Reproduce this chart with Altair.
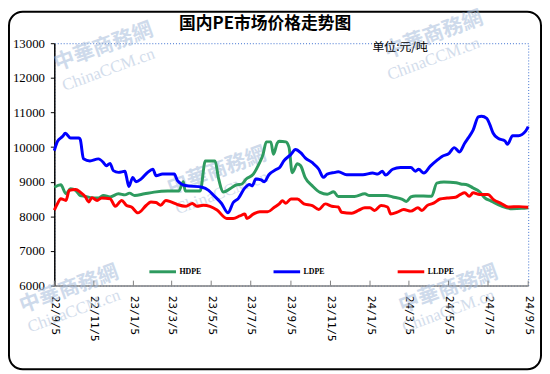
import altair as alt
import pandas as pd

# ---------------- data ----------------
series_names = ["HDPE", "LDPE", "LLDPE"]
series_colors = ["#2E9B5F", "#0000FF", "#FF0000"]

hdpe_dates = ["2022-09-05", "2022-09-15", "2022-09-23", "2022-09-30", "2022-10-08", "2022-10-15",
              "2022-10-23", "2022-10-31", "2022-11-12", "2022-11-20", "2022-11-30", "2022-12-13",
              "2022-12-23", "2022-12-30", "2023-01-07", "2023-01-22", "2023-02-06", "2023-02-27",
              "2023-03-16", "2023-03-23", "2023-03-26", "2023-04-18", "2023-04-26", "2023-05-11",
              "2023-05-16", "2023-05-24", "2023-06-03", "2023-06-13", "2023-06-21", "2023-06-28",
              "2023-07-09", "2023-07-17", "2023-07-24", "2023-07-29", "2023-08-05", "2023-08-09",
              "2023-08-15", "2023-08-18", "2023-08-28", "2023-09-02", "2023-09-07", "2023-09-15",
              "2023-09-20", "2023-09-27", "2023-10-08", "2023-10-20", "2023-10-31", "2023-11-10",
              "2023-11-17", "2023-12-12", "2023-12-28", "2024-01-04", "2024-01-30", "2024-02-09",
              "2024-02-24", "2024-03-01", "2024-03-08", "2024-03-15", "2024-04-09", "2024-04-17",
              "2024-04-28", "2024-05-17", "2024-05-24", "2024-06-01", "2024-06-12", "2024-06-22",
              "2024-06-30", "2024-07-10", "2024-07-26", "2024-08-11", "2024-08-26", "2024-09-05"]
hdpe_values = [8840, 8910, 8650, 8795, 8750, 8600,
               8575, 8540, 8530, 8600, 8560, 8650,
               8620, 8670, 8600, 8650, 8700, 8730,
               8730, 9000, 8730, 8730, 9600, 9600,
               9125, 8700, 8795, 8910, 8930, 9080,
               9220, 9485, 9790, 10150, 10150, 9790,
               10120, 10170, 10150, 10000, 9260, 9520,
               9460, 9120, 8880, 8690, 8640, 8710,
               8570, 8570, 8650, 8600, 8600, 8560,
               8490, 8430, 8560, 8590, 8580, 8960,
               8990, 8970, 8935, 8920, 8820, 8710,
               8535, 8440, 8295, 8220, 8230, 8250]

ldpe_dates = ["2022-09-05", "2022-09-10", "2022-09-18", "2022-09-22", "2022-09-30", "2022-10-13",
              "2022-10-15", "2022-10-20", "2022-10-30", "2022-11-12", "2022-11-20", "2022-11-24",
              "2022-11-30", "2022-12-05", "2022-12-13", "2022-12-23", "2022-12-25", "2022-12-29",
              "2023-01-04", "2023-01-09", "2023-01-17", "2023-01-27", "2023-02-04", "2023-02-09",
              "2023-02-19", "2023-03-09", "2023-03-14", "2023-03-26", "2023-04-21", "2023-05-01",
              "2023-05-09", "2023-05-21", "2023-05-31", "2023-06-08", "2023-06-16", "2023-06-25",
              "2023-07-03", "2023-07-07", "2023-07-13", "2023-07-21", "2023-07-26", "2023-08-02",
              "2023-08-13", "2023-08-19", "2023-08-25", "2023-09-05", "2023-09-12", "2023-09-20",
              "2023-09-27", "2023-10-08", "2023-10-18", "2023-10-25", "2023-10-31", "2023-11-12",
              "2023-11-17", "2023-11-30", "2023-12-25", "2024-01-09", "2024-01-17", "2024-01-24",
              "2024-01-29", "2024-02-09", "2024-02-21", "2024-03-08", "2024-03-15", "2024-03-20",
              "2024-03-28", "2024-04-07", "2024-04-18", "2024-04-25", "2024-05-06", "2024-05-14",
              "2024-05-22", "2024-05-30", "2024-06-04", "2024-06-12", "2024-06-20", "2024-06-25",
              "2024-07-03", "2024-07-08", "2024-07-13", "2024-07-21", "2024-07-31", "2024-08-04",
              "2024-08-12", "2024-08-21", "2024-09-01", "2024-09-05"]
ldpe_values = [9900, 10170, 10310, 10400, 10260, 10260,
               10220, 9660, 9600, 9660, 9550, 9460,
               9530, 9320, 9270, 9300, 9170, 8860,
               9125, 9000, 9080, 9270, 9360, 9170,
               9220, 9220, 9030, 8890, 8840, 8750,
               8600, 8370, 8100, 8400, 8520, 8800,
               8920, 8880, 9080, 9050, 9000, 9200,
               9350, 9420, 9600, 9790, 9930, 9840,
               9690, 9550, 9360, 9125, 9220, 9270,
               9290, 9200, 9200, 9250, 9220, 9300,
               9190, 9360, 9410, 9410, 9300, 9360,
               9250, 9450, 9630, 9730, 9820, 9985,
               9860, 10110, 10250, 10490, 10870, 10890,
               10830, 10640, 10400, 10250, 10180, 10080,
               10330, 10330, 10460, 10590]

lldpe_dates = ["2022-09-05", "2022-09-10", "2022-09-15", "2022-09-23", "2022-09-28", "2022-10-08",
               "2022-10-15", "2022-10-23", "2022-10-28", "2022-11-02", "2022-11-10", "2022-11-17",
               "2022-11-30", "2022-12-08", "2022-12-18", "2022-12-25", "2023-01-02", "2023-01-12",
               "2023-01-25", "2023-02-01", "2023-02-09", "2023-02-16", "2023-02-24", "2023-03-04",
               "2023-03-14", "2023-03-26", "2023-04-06", "2023-04-13", "2023-04-23", "2023-05-03",
               "2023-05-14", "2023-05-29", "2023-06-08", "2023-06-18", "2023-06-26", "2023-06-29",
               "2023-07-09", "2023-07-19", "2023-07-31", "2023-08-10", "2023-08-18", "2023-08-23",
               "2023-08-28", "2023-09-05", "2023-09-15", "2023-09-25", "2023-10-08", "2023-10-18",
               "2023-10-28", "2023-11-07", "2023-11-17", "2023-11-22", "2023-12-08", "2023-12-18",
               "2023-12-28", "2024-01-05", "2024-01-12", "2024-01-22", "2024-02-01", "2024-02-06",
               "2024-02-16", "2024-02-26", "2024-03-08", "2024-03-19", "2024-03-25", "2024-04-02",
               "2024-04-12", "2024-04-22", "2024-05-03", "2024-05-16", "2024-05-23", "2024-05-30",
               "2024-06-06", "2024-06-12", "2024-06-22", "2024-07-05", "2024-07-13", "2024-07-26",
               "2024-08-05", "2024-08-22", "2024-09-05"]
lldpe_values = [8180, 8370, 8510, 8460, 8750, 8775,
                8700, 8560, 8415, 8540, 8460, 8530,
                8510, 8290, 8460, 8320, 8270, 8100,
                8320, 8415, 8400, 8320, 8460, 8415,
                8340, 8290, 8370, 8290, 8320, 8290,
                8180, 7940, 7940, 8010, 8065, 7940,
                8065, 8130, 8130, 8255, 8360, 8450,
                8380, 8500, 8500, 8360, 8310, 8200,
                8360, 8290, 8270, 8120, 8090, 8170,
                8245, 8245, 8170, 8310, 8270, 8070,
                8120, 8200, 8150, 8245, 8170, 8310,
                8380, 8500, 8530, 8550, 8625, 8680,
                8580, 8680, 8630, 8630, 8490, 8365,
                8270, 8280, 8265]

tick_dates = ["2022-09-05", "2022-11-05", "2023-01-05", "2023-03-05", "2023-05-05", "2023-07-05",
              "2023-09-05", "2023-11-05", "2024-01-05", "2024-03-05", "2024-05-05", "2024-07-05",
              "2024-09-05"]
y_ticks = [6000, 7000, 8000, 9000, 10000, 11000, 12000, 13000]

title_text = "国内PE市场价格走势图"
unit_text = "单位:元/吨"

# ---------------- build tables ----------------
rows = []
for name, ds, vs in [("HDPE", hdpe_dates, hdpe_values),
                     ("LDPE", ldpe_dates, ldpe_values),
                     ("LLDPE", lldpe_dates, lldpe_values)]:
    assert len(ds) == len(vs), name
    for d, v in zip(ds, vs):
        rows.append({"date": d, "price": v, "series": name})
df = pd.DataFrame(rows)
ticks_df = pd.DataFrame({"date": tick_dates})


def dt(s):
    y, m, d = (int(p) for p in s.split("-"))
    return alt.DateTime(year=y, month=m, date=d, utc=True)


W, H = 481, 246
PAD = {"left": 47, "top": 33, "right": 14, "bottom": 87}

x_scale = alt.Scale(type="utc", domain=[dt(tick_dates[0]), dt(tick_dates[-1])], nice=False)
y_scale = alt.Scale(domain=[6000, 13000], nice=False, zero=False)

lines = alt.Chart(df).mark_line(strokeWidth=3, interpolate="monotone").encode(
    x=alt.X("date:T", scale=x_scale,
            axis=alt.Axis(values=[dt(t) for t in tick_dates], format="%y/%-m/%-d",
                          labelAngle=90, labelAlign="left", labelBaseline="middle",
                          labelPadding=10, tickSize=0, domainColor="#808080", domainWidth=1.5,
                          labelFont="DejaVu Sans Mono", labelFontSize=11, labelColor="#000000",
                          grid=False, title=None, labelOverlap=False, labelFlush=False)),
    y=alt.Y("price:Q", scale=y_scale,
            axis=alt.Axis(values=y_ticks, format="d", tickSize=4, tickColor="#000000",
                          domainColor="#000000", domainWidth=1.5, labelPadding=6,
                          labelFont="Liberation Sans Narrow", labelFontSize=13,
                          labelColor="#000000", grid=False, title=None)),
    color=alt.Color("series:N", scale=alt.Scale(domain=series_names, range=series_colors),
                    legend=alt.Legend(orient="none", legendX=95, legendY=217, direction="horizontal",
                                      title=None, symbolType="stroke", symbolSize=729,
                                      symbolStrokeWidth=3, labelFont="Liberation Serif",
                                      labelFontSize=8, labelFontWeight="bold", labelOffset=2,
                                      columnPadding=62, gridAlign="all", padding=0,
                                      labelColor="#000000")),
)

x_ticks = alt.Chart(ticks_df).mark_rule(color="#808080", strokeWidth=1).encode(
    x=alt.X("date:T", scale=x_scale),
    y=alt.value(H),
    y2=alt.value(H - 5),
)

one = pd.DataFrame({"t": [0]})
frame = alt.Chart(one).mark_rect(fillOpacity=0, stroke="#000000", strokeWidth=2, cornerRadius=14).encode(
    x=alt.value(-PAD["left"] + 1), x2=alt.value(W + PAD["right"] - 1),
    y=alt.value(-PAD["top"] + 1), y2=alt.value(H + PAD["bottom"] - 2),
)

title = alt.Chart(one).mark_text(text=title_text, font="Noto Sans CJK SC", fontSize=17,
                                 fontWeight="bold", color="#000000", baseline="middle",
                                 align="center").encode(
    x=alt.value(214), y=alt.value(-19))

unit = alt.Chart(one).mark_text(text=unit_text, font="Noto Sans CJK SC", fontSize=12,
                                color="#000000", baseline="middle", align="left").encode(
    x=alt.value(323), y=alt.value(4))

# faint watermarks
wm_cn = pd.DataFrame({"x": [50, 385, 165, 15, 400], "y": [4, -8, 130, 250, 250]})
wm_en = pd.DataFrame({"x": [55, 385, 170, 20, 400], "y": [27, 16, 152, 272, 272]})
wm1 = alt.Chart(wm_cn).mark_text(text="中華商務網", font="Noto Sans CJK SC", fontSize=21,
                                 fontWeight="bold", color="#A7BDDB", opacity=0.55, angle=340,
                                 align="center", baseline="middle").encode(
    x=alt.X("x:Q", scale=None), y=alt.Y("y:Q", scale=None))
wm2 = alt.Chart(wm_en).mark_text(text="ChinaCCM.cn", font="Liberation Serif", fontSize=17,
                                 color="#AFC2DC", opacity=0.55, angle=340,
                                 align="center", baseline="middle").encode(
    x=alt.X("x:Q", scale=None), y=alt.Y("y:Q", scale=None))

chart = alt.layer(frame, wm1, wm2, x_ticks, lines, title, unit).properties(
    width=W, height=H, padding=PAD, autosize=alt.AutoSizeParams(type="none"),
    background="#FFFFFF",
).configure_view(stroke="#3B6FD0", strokeDash=[1, 2], strokeWidth=1)

chart.save("out.html", embed_options={"renderer": "svg", "actions": False})
